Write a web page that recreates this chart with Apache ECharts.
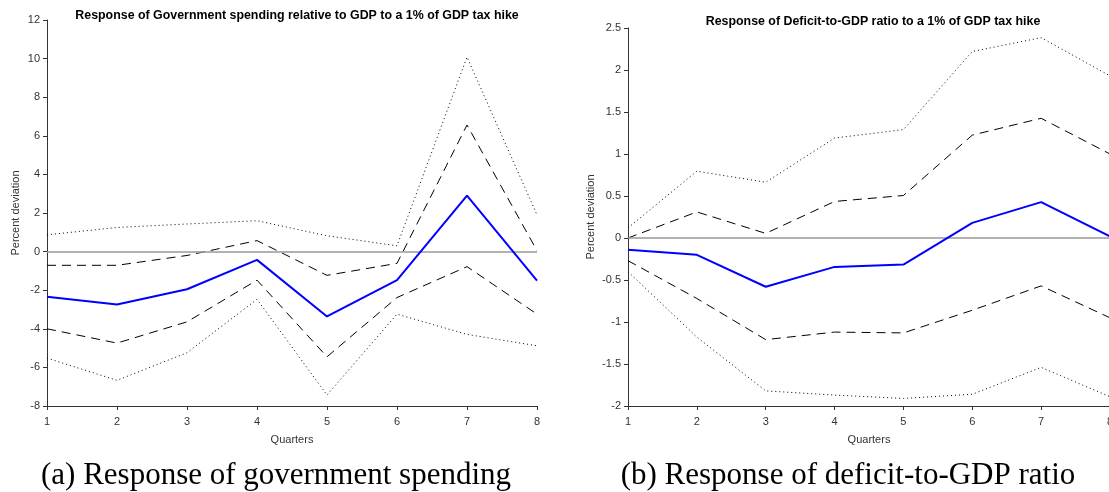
<!DOCTYPE html>
<html><head><meta charset="utf-8">
<script src="https://cdn.jsdelivr.net/npm/echarts@6/dist/echarts.min.js"></script>
<style>html,body{margin:0;padding:0;background:#fff}#c{width:1109px;height:492px}</style>
</head><body><div id="c"></div>
<script>
const quarters = ['1','2','3','4','5','6','7','8'];
// Panel (a): government spending
const govMedian = [-2.34, -2.74, -1.95, -0.43, -3.36, -1.48, 2.9, -1.5];
const govUpper68 = [-0.71, -0.71, -0.2, 0.57, -1.23, -0.61, 6.56, 0.05];
const govLower68 = [-4.0, -4.74, -3.64, -1.48, -5.45, -2.38, -0.78, -3.24];
const govUpper90 = [0.87, 1.25, 1.43, 1.6, 0.82, 0.3, 10.08, 1.9];
const govLower90 = [-5.52, -6.67, -5.24, -2.47, -7.43, -3.24, -4.29, -4.88];
// Panel (b): deficit-to-GDP ratio
const defMedian = [-0.14, -0.2, -0.58, -0.344, -0.316, 0.18, 0.427, 0.02];
const defUpper68 = [0.0, 0.31, 0.055, 0.435, 0.506, 1.225, 1.425, 1.0];
const defLower68 = [-0.27, -0.72, -1.21, -1.12, -1.13, -0.86, -0.57, -0.95];
const defUpper90 = [0.12, 0.795, 0.664, 1.19, 1.29, 2.22, 2.385, 1.93];
const defLower90 = [-0.40, -1.18, -1.82, -1.87, -1.91, -1.86, -1.54, -1.89];

const titleA = 'Response of Government spending relative to GDP to a 1% of GDP tax hike';
const titleB = 'Response of Deficit-to-GDP ratio to a 1% of GDP tax hike';
const captionA = '(a) Response of government spending';
const captionB = '(b) Response of deficit-to-GDP ratio';

const chart = echarts.init(document.getElementById('c'));
const sans = '"Liberation Sans", Arial, sans-serif';
const axisCol = '#333';

function xAxis(gi){
  return {type:'category', gridIndex:gi, data:quarters, boundaryGap:false,
    name:'Quarters', nameLocation:'middle', nameGap:28,
    nameTextStyle:{fontFamily:sans, fontSize:11, color:'#333'},
    axisLine:{onZero:false, lineStyle:{color:axisCol, width:1}},
    axisTick:{show:true, length:4, lineStyle:{color:axisCol}},
    axisLabel:{fontFamily:sans, fontSize:11, color:'#333', margin:10},
    splitLine:{show:false}};
}
function yAxis(gi, min, max, interval, gap){
  return {type:'value', gridIndex:gi, min:min, max:max, interval:interval,
    name:'Percent deviation', nameLocation:'middle', nameGap:gap,
    nameTextStyle:{fontFamily:sans, fontSize:11, color:'#333'},
    axisLine:{show:true, onZero:false, lineStyle:{color:axisCol, width:1}},
    axisTick:{show:true, length:4, lineStyle:{color:axisCol}},
    axisLabel:{fontFamily:sans, fontSize:11, color:'#333', margin:7},
    splitLine:{show:false}};
}
function line(gi, data, kind){
  const st = kind==='solid' ? {color:'#0000ff', width:2, type:'solid'} :
             kind==='dash' ? {color:'#000', width:1, type:[9,6]} :
             {color:'#000', width:1, type:[1,3]};
  return {type:'line', xAxisIndex:gi, yAxisIndex:gi, data:data, symbol:'none',
    lineStyle:st, z: kind==='solid'?5:4, silent:true, animation:false};
}
function zeroLine(gi){
  return {type:'line', xAxisIndex:gi, yAxisIndex:gi, data:[], symbol:'none', silent:true,
    markLine:{symbol:'none', silent:true, label:{show:false},
      lineStyle:{color:'#999', width:1.5, type:'solid'}, data:[{yAxis:0}]}, z:2};
}

chart.setOption({
  animation:false,
  title:[
    {text:titleA, left:292, textAlign:'center', top:5, textStyle:{fontFamily:sans, fontSize:12.4, fontWeight:'bold', color:'#000'}},
    {text:titleB, left:868, textAlign:'center', top:11, textStyle:{fontFamily:sans, fontSize:12.4, fontWeight:'bold', color:'#000'}}
  ],
  graphic:[
    {type:'text', x:276, y:476, silent:true, style:{text:captionA, font:'31px "Liberation Serif", "DejaVu Serif", serif', fill:'#000', align:'center', verticalAlign:'middle'}},
    {type:'text', x:848, y:476, silent:true, style:{text:captionB, font:'31px "Liberation Serif", "DejaVu Serif", serif', fill:'#000', align:'center', verticalAlign:'middle'}}
  ],
  grid:[
    {left:47, top:20, width:490, height:386, outerBoundsMode:'none', containLabel:false},
    {left:628, top:28, width:482, height:378, outerBoundsMode:'none', containLabel:false}
  ],
  xAxis:[xAxis(0), xAxis(1)],
  yAxis:[yAxis(0,-8,12,2,26), yAxis(1,-2,2.5,0.5,32)],
  series:[
    zeroLine(0),
    line(0, govUpper90, 'dot'), line(0, govLower90, 'dot'),
    line(0, govUpper68, 'dash'), line(0, govLower68, 'dash'),
    line(0, govMedian, 'solid'),
    zeroLine(1),
    line(1, defUpper90, 'dot'), line(1, defLower90, 'dot'),
    line(1, defUpper68, 'dash'), line(1, defLower68, 'dash'),
    line(1, defMedian, 'solid')
  ]
});
</script></body></html>
